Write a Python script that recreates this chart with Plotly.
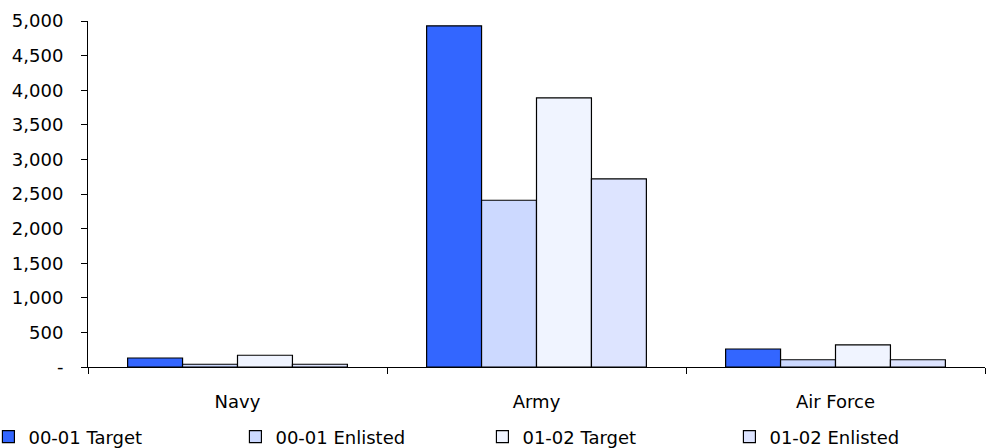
import plotly.graph_objects as go

categories = ["Navy", "Army", "Air Force"]
series_names = ["00-01 Target", "00-01 Enlisted", "01-02 Target", "01-02 Enlisted"]
target_0001 = [130, 4930, 260]
enlisted_0001 = [40, 2410, 105]
target_0102 = [170, 3890, 320]
enlisted_0102 = [40, 2720, 105]
colors = ["#3366FF", "#CCD9FF", "#F0F4FF", "#DDE4FF"]
ytick_vals = [0, 500, 1000, 1500, 2000, 2500, 3000, 3500, 4000, 4500, 5000]
ytick_text = ["-", "500", "1,000", "1,500", "2,000", "2,500", "3,000", "3,500", "4,000", "4,500", "5,000"]

FONT = "Tahoma, DejaVu Sans, sans-serif"

fig = go.Figure()
for name, vals, col in zip(series_names, [target_0001, enlisted_0001, target_0102, enlisted_0102], colors):
    fig.add_trace(go.Bar(x=categories, y=vals, name=name,
                         marker=dict(color=col, line=dict(color="#000000", width=1.2))))

fig.update_layout(
    width=986, height=448,
    margin=dict(l=88, r=1, t=21, b=81, autoexpand=False),
    paper_bgcolor="white", plot_bgcolor="white",
    barmode="group", bargap=0.265, bargroupgap=0,
    font=dict(family=FONT, size=18, color="#000000"),
    showlegend=True,
    legend=dict(orientation="h", xref="paper", yref="paper",
                x=-0.111, y=-0.202, xanchor="left", yanchor="middle",
                entrywidth=202, entrywidthmode="pixels",
                itemwidth=30, font=dict(family=FONT, size=18),
                bgcolor="rgba(0,0,0,0)", traceorder="normal"),
)
fig.update_xaxes(showline=True, linecolor="#000000", linewidth=1,
                 ticks="outside", ticklen=6, tickcolor="#000000", tickson="boundaries",
                 showgrid=False, range=[-0.5, 2.5], ticklabelstandoff=18, automargin=False)
fig.update_yaxes(showline=True, linecolor="#000000", linewidth=1,
                 ticks="outside", ticklen=6, tickcolor="#000000",
                 showgrid=False, zeroline=False, range=[0, 5000],
                 tickvals=ytick_vals, ticktext=ytick_text, ticklabelstandoff=14, automargin=False)

fig.write_html("out.html", config={"displayModeBar": False},
               post_script="document.body.style.margin='0';")
